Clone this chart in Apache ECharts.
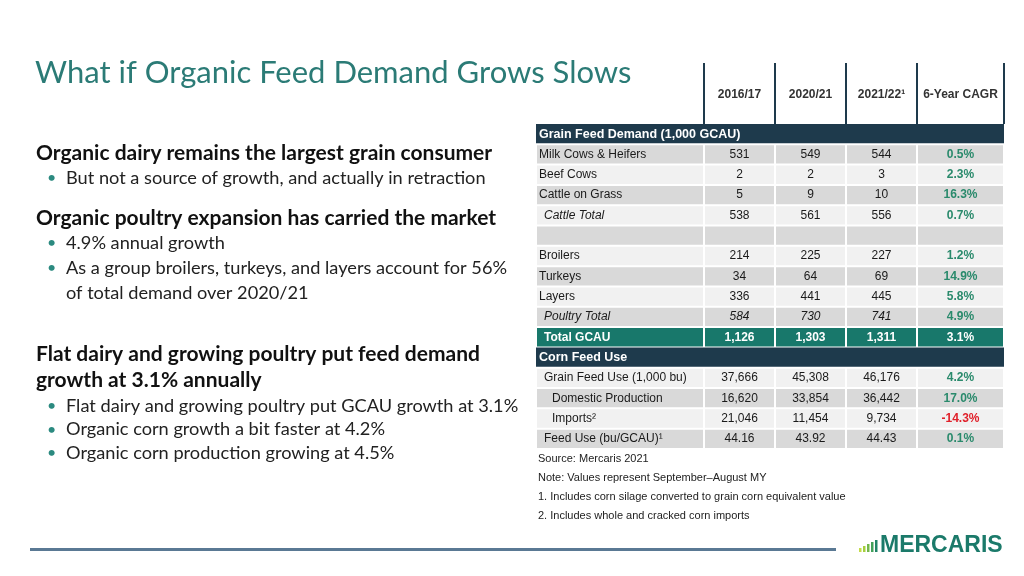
<!DOCTYPE html>
<html>
<head>
<meta charset="utf-8">
<script src="https://cdn.jsdelivr.net/npm/echarts@6/dist/echarts.min.js"></script>
<style>html,body{margin:0;padding:0;background:#fff}#c{width:1024px;height:576px}</style>
</head>
<body>
<div id="c"></div>
<script>
// ---------- DATA ----------
const columnHeaders = ['2016/17', '2020/21', '2021/22\u00B9', '6-Year CAGR'];
const rowLabels = [
  'Grain Feed Demand (1,000 GCAU)', 'Milk Cows & Heifers', 'Beef Cows', 'Cattle on Grass', 'Cattle Total', '',
  'Broilers', 'Turkeys', 'Layers', 'Poultry Total', 'Total GCAU',
  'Corn Feed Use', 'Grain Feed Use (1,000 bu)', 'Domestic Production', 'Imports\u00B2', 'Feed Use (bu/GCAU)\u00B9'
];
const rowKinds = [
  'section', 'item', 'item', 'item', 'subtotal', 'blank',
  'item', 'item', 'item', 'subtotalItalic', 'total',
  'section', 'item1', 'item2', 'item2', 'item1'
];
const values2016 = [null, 531, 2, 5, 538, null, 214, 34, 336, 584, 1126, null, 37666, 16620, 21046, 44.16];
const values2020 = [null, 549, 2, 9, 561, null, 225, 64, 441, 730, 1303, null, 45308, 33854, 11454, 43.92];
const values2021 = [null, 544, 3, 10, 556, null, 227, 69, 445, 741, 1311, null, 46176, 36442, 9734, 44.43];
const cagr6yr   = [null, 0.5, 2.3, 16.3, 0.7, null, 1.2, 14.9, 5.8, 4.9, 3.1, null, 4.2, 17.0, -14.3, 0.1];
const footnotes = [
  'Source: Mercaris 2021',
  'Note: Values represent September\u2013August MY',
  '1. Includes corn silage converted to grain corn equivalent value',
  '2. Includes whole and cracked corn imports'
];
const titleText = 'What if Organic Feed Demand Grows Slows';
const bulletBlocks = [
  { head: ['Organic dairy remains the largest grain consumer'],
    bullets: [['But not a source of growth, and actually in retraction']] },
  { head: ['Organic poultry expansion has carried the market'],
    bullets: [['4.9% annual growth'], ['As a group broilers, turkeys, and layers account for 56%', 'of total demand over 2020/21']] },
  { head: ['Flat dairy and growing poultry put feed demand', 'growth at 3.1% annually'],
    bullets: [['Flat dairy and growing poultry put GCAU growth at 3.1%'], ['Organic corn growth a bit faster at 4.2%'], ['Organic corn production growing at 4.5%']] }
];

// ---------- LAYOUT / STYLE ----------
const COL_WEIGHTS = [168, 71, 71, 71, 87];
const COL_EDGES = COL_WEIGHTS.reduce((a, w) => { a.push(a[a.length - 1] + w); return a; }, [0]);
const HEAD_UNITS = 3;
const NAVY = '#1e3a4c', TEAL = '#18786b', GREEN = '#2a8a6c', RED = '#e0202a';
const DARK_ROW = '#d9d9d9', LIGHT_ROW = '#f1f1f1';
const TF = '"Liberation Sans", Arial, sans-serif';
const LF = 'Lato, "Open Sans", sans-serif';

function fmt(v, col) {
  if (v == null) return '';
  if (col === 4) return v.toFixed(1) + '%';
  return Number.isInteger(v) ? v.toLocaleString('en-US') : v.toFixed(2);
}

// cell items: [col, row]; col -1 = full-width section bar; row -1 = column header
const cells = [];
for (let c = 1; c <= 4; c++) cells.push([c, -1]);
rowKinds.forEach((k, r) => {
  if (k === 'section') cells.push([-1, r]);
  else for (let c = 0; c <= 4; c++) cells.push([c, r]);
});

const seriesCols = [null, values2016, values2020, values2021, cagr6yr];

function renderItem(params, api) {
  const c = api.value(0), r = api.value(1);
  if (r === -1) {
    const a = api.coord([COL_EDGES[c], 0]);
    const b = api.coord([COL_EDGES[c + 1], HEAD_UNITS]);
    const children = [
      { type: 'line', shape: { x1: a[0], y1: a[1], x2: a[0], y2: b[1] }, style: { stroke: NAVY, lineWidth: 2 } },
      { type: 'text', style: { text: columnHeaders[c - 1], x: (a[0] + b[0]) / 2, y: (a[1] + b[1]) / 2 + 1,
        align: 'center', verticalAlign: 'middle', fontFamily: TF, fontWeight: 'bold', fontSize: 12, fill: '#333' } }
    ];
    if (c === 4) children.push({ type: 'line', shape: { x1: b[0], y1: a[1], x2: b[0], y2: b[1] }, style: { stroke: NAVY, lineWidth: 2 } });
    return { type: 'group', children };
  }
  const kind = rowKinds[r];
  const y0 = r + HEAD_UNITS, y1 = r + HEAD_UNITS + 1;
  if (c === -1) {
    const a = api.coord([COL_EDGES[0], y0]);
    const b = api.coord([COL_EDGES[COL_EDGES.length - 1], y1]);
    return { type: 'group', children: [
      { type: 'rect', shape: { x: a[0], y: a[1], width: b[0] - a[0], height: b[1] - a[1] - 1 }, style: { fill: NAVY } },
      { type: 'text', style: { text: rowLabels[r], x: a[0] + 3, y: (a[1] + b[1]) / 2, align: 'left', verticalAlign: 'middle',
        fontFamily: TF, fontWeight: 'bold', fontSize: 12.5, fill: '#fff' } }
    ] };
  }
  const a = api.coord([COL_EDGES[c], y0]);
  const b = api.coord([COL_EDGES[c + 1], y1]);
  const dark = r % 2 === 1;
  let fill = kind === 'total' ? TEAL : (dark ? DARK_ROW : LIGHT_ROW);
  const children = [{ type: 'rect', shape: { x: a[0] + 1, y: a[1] + 1, width: b[0] - a[0] - 2, height: b[1] - a[1] - 2 }, style: { fill } }];
  let text = '', align = 'center', x = (a[0] + b[0]) / 2, color = '#1a1a1a', weight = 'normal', style = 'normal';
  if (c === 0) {
    text = rowLabels[r]; align = 'left';
    const indent = { item: 3, subtotal: 8, subtotalItalic: 8, total: 8, item1: 8, item2: 16 }[kind] || 3;
    x = a[0] + indent;
    if (kind === 'subtotal' || kind === 'subtotalItalic') style = 'italic';
  } else {
    text = fmt(seriesCols[c][r], c);
    if (kind === 'subtotalItalic' && c < 4) style = 'italic';
    if (c === 4) { weight = 'bold'; color = seriesCols[c][r] < 0 ? RED : GREEN; }
  }
  if (kind === 'total') { color = '#fff'; weight = 'bold'; }
  if (text) children.push({ type: 'text', style: { text, x, y: (a[1] + b[1]) / 2, align, verticalAlign: 'middle',
    fontFamily: TF, fontSize: 12, fontWeight: weight, fontStyle: style, fill: color } });
  return { type: 'group', children };
}

// ---------- left text via graphic ----------
const graphics = [];
graphics.push({ type: 'text', left: 35, top: 57, style: { text: titleText, font: '31px ' + LF, fill: '#2b7b76' } });
const blockTops = [143, 208, 344];
const headGaps = [26, 26, 26];
const bulletOffsets = [0, 0, 1];
const lineGaps = [25, 25, 23.5];
bulletBlocks.forEach((blk, i) => {
  let y = blockTops[i];
  blk.head.forEach(h => {
    graphics.push({ type: 'text', left: 36, top: y, style: { text: h, font: 'bold 21px ' + LF, fill: '#111' } });
    y += headGaps[i];
  });
  y += bulletOffsets[i];
  blk.bullets.forEach(lines => {
    graphics.push({ type: 'text', left: 47, top: y + 1, style: { text: '\u2022', font: '16px ' + LF, fill: '#2b8a80' } });
    lines.forEach(line => {
      graphics.push({ type: 'text', left: 66, top: y, style: { text: line, font: '18.2px ' + LF, fill: '#222' } });
      y += lineGaps[i];
    });
  });
});
footnotes.forEach((t, i) => {
  graphics.push({ type: 'text', left: 538, top: 453 + i * 19.3, style: { text: t, font: '11px ' + TF, fill: '#222' } });
});
// footer rule
graphics.push({ type: 'rect', shape: { x: 30, y: 548, width: 806, height: 3 }, style: { fill: '#5a7994' } });
// logo
const logoBars = [4, 6, 8, 10, 12];
logoBars.forEach((h, i) => {
  graphics.push({ type: 'rect', shape: { x: 859 + i * 4, y: 552 - h, width: 2.5, height: h },
    style: { fill: ['#c4dc4a', '#a4cf3e', '#74b84a', '#42a05a', '#1f8467'][i] } });
});
graphics.push({ type: 'text', left: 880, top: 534, style: { text: 'MERCARIS', font: 'bold 23px ' + TF, fill: '#1b7a6a' } });

const chart = echarts.init(document.getElementById('c'), null, { renderer: 'canvas' });
chart.setOption({
  animation: false,
  backgroundColor: '#fff',
  grid: { left: 536, right: 20, top: 63, bottom: 127 },
  xAxis: { type: 'value', min: 0, max: COL_EDGES[COL_EDGES.length - 1], show: false },
  yAxis: { type: 'value', min: 0, max: HEAD_UNITS + rowLabels.length, inverse: true, show: false },
  series: [{ type: 'custom', renderItem, data: cells, encode: { x: 0, y: 1 }, clip: false }],
  graphic: graphics
});
</script>
</body>
</html>
